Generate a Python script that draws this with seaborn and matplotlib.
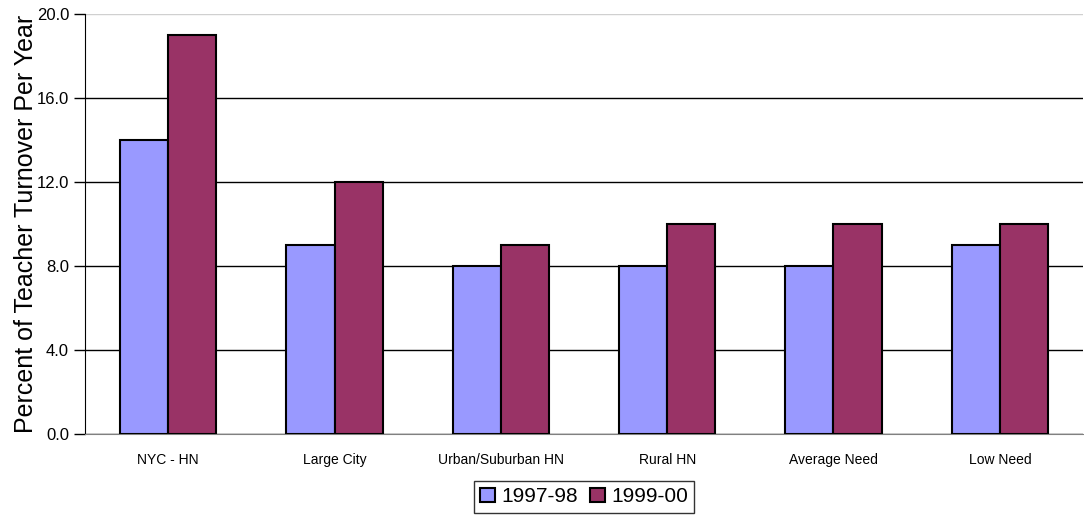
import matplotlib.pyplot as plt
import pandas as pd
import seaborn as sns

categories = ["NYC - HN", "Large City", "Urban/Suburban HN", "Rural HN", "Average Need", "Low Need"]
turnover_1997 = [14, 9, 8, 8, 8, 9]
turnover_1999 = [19, 12, 9, 10, 10, 10]
years = ["1997-98", "1999-00"]
colors = ["#9999FF", "#993366"]

df = pd.DataFrame({
    "Category": categories * 2,
    "Year": [years[0]] * len(categories) + [years[1]] * len(categories),
    "Turnover": turnover_1997 + turnover_1999,
})

sns.set_style("white")
plt.rcParams["font.family"] = ["Liberation Sans", "DejaVu Sans"]
plt.rcParams["text.color"] = "black"
plt.rcParams["xtick.color"] = "black"
plt.rcParams["ytick.color"] = "black"
plt.rcParams["axes.labelcolor"] = "black"

fig = plt.figure(figsize=(10.84, 5.15), dpi=100)
ax = fig.add_axes([85 / 1084, 81 / 515, 998 / 1084, 420 / 515])

sns.barplot(df, x="Category", y="Turnover", hue="Year", palette=colors,
            width=0.58, edgecolor="black", linewidth=1.5, saturation=1, ax=ax, zorder=3)

ax.set_ylim(0, 20)
ax.set_yticks([0, 4, 8, 12, 16, 20])
ax.set_yticklabels([f"{v:.1f}" for v in [0, 4, 8, 12, 16, 20]], fontsize=12)
ax.yaxis.grid(True, color="black", linewidth=1, zorder=0)
ax.get_ygridlines()[-1].set_color("#d0d0d0")
ax.tick_params(axis="y", direction="out", length=8, width=1, left=True, color="black")
ax.tick_params(axis="x", length=0, labelsize=10, pad=14)
ax.set_xlabel("")
ax.set_ylabel("Percent of Teacher Turnover Per Year", fontsize=18, labelpad=-1)

for side in ["top", "right"]:
    ax.spines[side].set_visible(False)
ax.spines["left"].set_color("black")
ax.spines["bottom"].set_color("#808080")

ax.legend(loc="upper center", bbox_to_anchor=(0.5, -0.112), ncol=2, fontsize=15,
          frameon=True, fancybox=False, edgecolor="black", handlelength=0.7,
          handleheight=0.7, handletextpad=0.3, columnspacing=0.6, borderpad=0.3,
          borderaxespad=0)

fig.savefig("out.png", dpi=100)
